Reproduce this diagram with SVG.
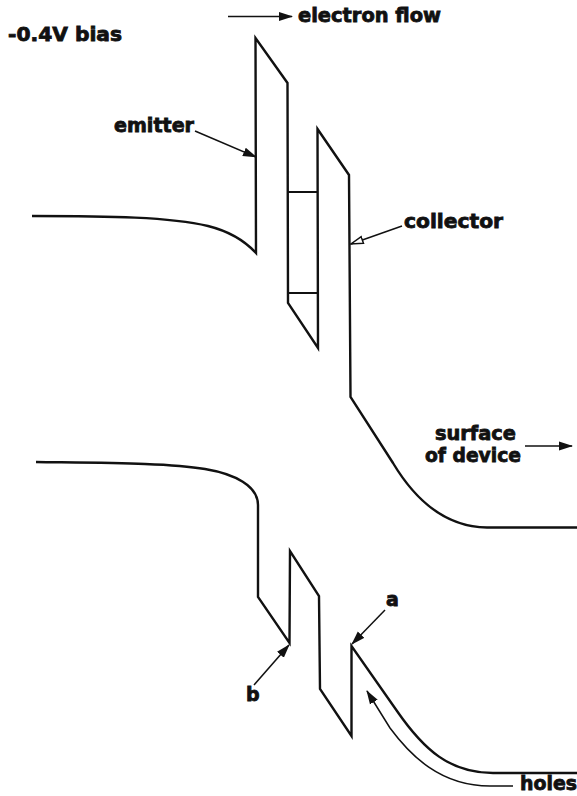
<svg xmlns="http://www.w3.org/2000/svg" width="577" height="796" viewBox="0 0 577 796">
<style>
.band{fill:none;stroke:#111;stroke-width:2.4;stroke-linejoin:miter}
.thin{fill:none;stroke:#111;stroke-width:1.5}
.lbl{font-family:"DejaVu Sans","Liberation Sans",sans-serif;font-weight:700;font-size:19px;fill:#111;stroke:#111;stroke-width:.8}
</style>
<defs>
<marker id="solid" viewBox="0 0 14 10" refX="13" refY="5" markerWidth="14" markerHeight="10" markerUnits="userSpaceOnUse" orient="auto"><path d="M0 .5L14 5L0 9.500z" fill="#111"/></marker>
<marker id="hollow" viewBox="0 0 14 10" refX="13" refY="5" markerWidth="14" markerHeight="10" markerUnits="userSpaceOnUse" orient="auto"><path d="M1 1.500L13 5L1 8.500z" fill="#fff" stroke="#111" stroke-width="1.5"/></marker>
</defs>
<rect width="577" height="796" fill="#fff"/>
<g id="bands">
<path class="band" d="M32 216C110 216 170 217 208 226C228 231 244 240 256 253L255.500 38L287.500 83L288 303L318 348L317.500 129L349 175L350.500 397L393 463C417 503 447 527 487 527.500L577 527.500"/>
<path class="band" d="M36 462C110 463 170 463 205 469C235 474 258 486 258 505L258 597L289.500 643L290 551L319 596L320 689L351.500 736L351.500 646L397 711C424 750 450 773 493 773L577 773"/>
<path class="band" d="M288 192H318M289 293H318" style="stroke-width:2"/>
</g>
<g id="connectors">
<path class="thin" d="M228 16.500H292" marker-end="url(#solid)"/>
<path class="thin" d="M195 131L256 157" marker-end="url(#solid)"/>
<path class="thin" d="M402 226L351 244" marker-end="url(#hollow)"/>
<path class="thin" d="M525 446H572" marker-end="url(#solid)"/>
<path class="thin" d="M385 610L352 644" marker-end="url(#solid)"/>
<path class="thin" d="M254 685L289 645" marker-end="url(#solid)"/>
<path class="thin" d="M513 786L490 786C440 786 410 755 390 728L367 691" marker-end="url(#solid)"/>
</g>
<g id="label-bias"><text class="lbl" x="8" y="41" textLength="114" lengthAdjust="spacingAndGlyphs">-0.4V bias</text></g>
<g id="label-electron-flow"><text class="lbl" x="298" y="22" textLength="143" lengthAdjust="spacingAndGlyphs">electron flow</text></g>
<g id="label-emitter"><text class="lbl" x="114" y="132" textLength="80" lengthAdjust="spacingAndGlyphs">emitter</text></g>
<g id="label-collector"><text class="lbl" x="404" y="228" textLength="99" lengthAdjust="spacingAndGlyphs">collector</text></g>
<g id="label-surface"><text class="lbl" x="435" y="440" textLength="81" lengthAdjust="spacingAndGlyphs">surface</text><text class="lbl" x="425" y="462" textLength="96" lengthAdjust="spacingAndGlyphs">of device</text></g>
<g id="label-a"><text class="lbl" x="386" y="606">a</text></g>
<g id="label-b"><text class="lbl" x="246" y="701">b</text></g>
<g id="label-holes"><text class="lbl" x="520" y="790" textLength="57" lengthAdjust="spacingAndGlyphs">holes</text></g>
</svg>
